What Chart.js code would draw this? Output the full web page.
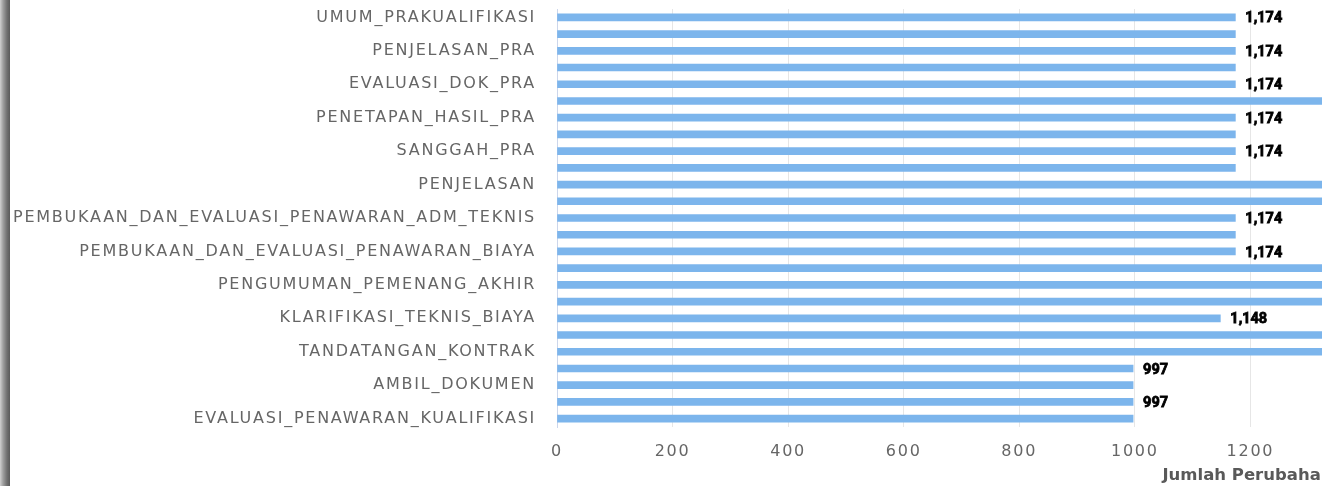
<!DOCTYPE html>
<html>
<head>
<meta charset="utf-8">
<script src="https://cdn.jsdelivr.net/npm/chart.js@4"></script>
<style>
  html, body { margin: 0; padding: 0; background: #fff; width: 1341px; height: 486px; overflow: hidden; }
  #tepi { position: absolute; left: 0; top: 0; width: 10px; height: 486px;
    background: linear-gradient(to right, #d0d0d0 0%, #a0a0a0 30%, #707070 70%, #5a5a5a 100%); }
  #wadah { position: absolute; left: 10px; top: 0; width: 1312px; height: 486px; overflow: hidden; }
  #myChart { position: absolute; left: -50px; top: 0; width: 2018px; height: 486px; }
</style>
</head>
<body>
<div id="tepi"></div>
<div id="wadah"><canvas id="myChart" width="2018" height="486"></canvas></div>
<script>
//Tahapan (kategori sumbu y)
const tahapan = [
  'UMUM_PRAKUALIFIKASI',
  'AMBIL_DOK_PRA',
  'PENJELASAN_PRA',
  'PEMASUKAN_DOK_PRA',
  'EVALUASI_DOK_PRA',
  'VERIFIKASI_PRA',
  'PENETAPAN_HASIL_PRA',
  'PENGUMUMAN_HASIL_PRA',
  'SANGGAH_PRA',
  'UNDANGAN_PEMILIHAN',
  'PENJELASAN',
  'PEMASUKAN_PENAWARAN',
  'PEMBUKAAN_DAN_EVALUASI_PENAWARAN_ADM_TEKNIS',
  'PENGUMUMAN_HASIL_EVALUASI_ADM_TEKNIS',
  'PEMBUKAAN_DAN_EVALUASI_PENAWARAN_BIAYA',
  'PENETAPAN_PEMENANG_AKHIR',
  'PENGUMUMAN_PEMENANG_AKHIR',
  'SANGGAH_AKHIR',
  'KLARIFIKASI_TEKNIS_BIAYA',
  'PENUNJUKAN_PEMENANG',
  'TANDATANGAN_KONTRAK',
  'PENGUMUMAN_PASCAKUALIFIKASI',
  'AMBIL_DOKUMEN',
  'PEMASUKAN_DAN_PEMBUKAAN_PENAWARAN',
  'EVALUASI_PENAWARAN_KUALIFIKASI'
];

//Jumlah perubahan per tahapan (batang panjang terpotong di gambar, nilainya perkiraan)
const jumlahPerubahan = [
  1174, 1174, 1174, 1174, 1174, 2348, 1174, 1174, 1174, 1174,
  2348, 2348, 1174, 1174, 1174, 2348, 2348, 2348, 1148, 2348,
  2348, 997, 997, 997, 997
];

//Tick sumbu x
const tickX = [0, 200, 400, 600, 800, 1000, 1200, 1400, 1600, 1800, 2000, 2200];

const judulX = 'Jumlah Perubahan';

//Jarak huruf untuk teks sumbu
const spasiHuruf = {
  id: 'spasiHuruf',
  beforeDraw(chart) { chart.ctx.letterSpacing = '1.75px'; },
  beforeDatasetsDraw(chart) { chart.ctx.letterSpacing = '0px'; }
};

//Label nilai di ujung batang, disembunyikan bila bertabrakan
const labelNilai = {
  id: 'labelNilai',
  afterDatasetsDraw(chart) {
    const ctx = chart.ctx;
    const meta = chart.getDatasetMeta(0);
    const kotak = [];
    ctx.save();
    ctx.letterSpacing = '0px';
    ctx.font = 'bold 14.5px Roboto';
    ctx.textBaseline = 'middle';
    ctx.textAlign = 'left';
    meta.data.forEach((bar, i) => {
      const teks = jumlahPerubahan[i].toLocaleString('en-US');
      const w = ctx.measureText(teks).width;
      const b = { x1: bar.x + 6, x2: bar.x + 14 + w, y1: bar.y - 11, y2: bar.y + 11 };
      const tabrak = kotak.some(k => b.x1 < k.x2 && b.x2 > k.x1 && b.y1 < k.y2 && b.y2 > k.y1);
      if (tabrak) return;
      kotak.push(b);
      ctx.lineWidth = 0.8;
      ctx.strokeStyle = '#000';
      ctx.fillStyle = '#000';
      ctx.fillText(teks, bar.x + 10, bar.y + 1.5);
      ctx.strokeText(teks, bar.x + 10, bar.y + 1.5);
    });
    ctx.restore();
  },
  afterDraw(chart) {
    const ctx = chart.ctx;
    const area = chart.chartArea;
    ctx.save();
    ctx.letterSpacing = '0px';
    ctx.font = 'bold 16.5px "DejaVu Sans"';
    ctx.fillStyle = '#595959';
    ctx.textAlign = 'center';
    ctx.textBaseline = 'middle';
    ctx.fillText(judulX, (area.left + area.right) / 2, 476);
    ctx.restore();
  }
};

const data = {
  labels: tahapan,
  datasets: [{
    label: judulX,
    data: jumlahPerubahan,
    backgroundColor: '#7cb5ec',
    barThickness: 7,
    borderWidth: 0
  }]
};

const config = {
  type: 'bar',
  data: data,
  options: {
    indexAxis: 'y',
    responsive: false,
    animation: false,
    layout: {
      padding: { top: 9, right: 40, bottom: 0, left: 0 }
    },
    plugins: {
      legend: { display: false },
      tooltip: { enabled: false }
    },
    scales: {
      x: {
        min: 0,
        max: 2390,
        afterBuildTicks(scale) { scale.ticks = tickX.map(v => ({ value: v })); },
        afterFit(scale) { scale.height = 59; },
        grid: { color: '#e6e6e6', drawTicks: false },
        border: { display: false },
        ticks: {
          padding: 15,
          color: '#666666',
          font: { family: 'DejaVu Sans', size: 16 },
          maxRotation: 0,
          callback: v => String(v)
        }
      },
      y: {
        afterFit(scale) {
          scale.width = 597;
          scale.paddingTop = 0;
          scale.paddingBottom = 0;
        },
        grid: { display: false, drawTicks: false },
        border: { display: true, color: '#ccd6eb' },
        ticks: {
          autoSkip: false,
          padding: 21,
          color: '#666666',
          font: { family: 'DejaVu Sans', size: 16 },
          callback: (v, i) => (i % 2 ? '' : tahapan[i])
        }
      }
    }
  },
  plugins: [spasiHuruf, labelNilai]
};

const myChart = new Chart(document.getElementById('myChart'), config);
</script>
</body>
</html>
